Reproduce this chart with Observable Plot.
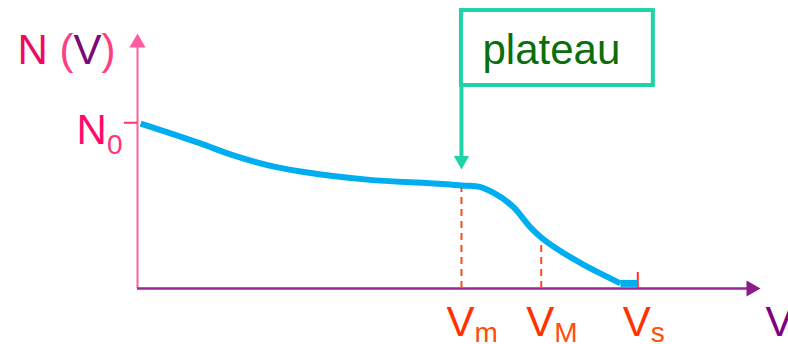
<!DOCTYPE html>
<html><head><meta charset="utf-8">
<script src="https://cdn.jsdelivr.net/npm/d3@7"></script>
<script src="https://cdn.jsdelivr.net/npm/@observablehq/plot@0.6"></script>
<style>body{margin:0;background:#fff;} svg{display:block;}</style>
</head><body><div id="chart"></div>
<script>
// ---- data (arbitrary units read from the schematic) ----
const voltage = [0.5, 10.1, 15.4, 22.5, 26.2, 36.9, 50.2, 52.0, 54.6, 57.1, 60.4, 63.1, 64.8, 68.0, 71.5, 74.3, 77.5];
const counts  = [64.7, 56.9, 52.2, 47.5, 45.9, 42.7, 40.8, 40.4, 40.0, 37.6, 31.8, 23.9, 20.0, 14.5, 9.5, 5.9, 2.0];
const tailV = [77.5, 80.3];
const tailN = [2.0, 2.0];
const N0 = 65;
const Vm = 52.0, VM = 64.8, Vs = 80.3;
const markerLabels = ["Vm", "VM", "Vs"];
const markerV = [Vm, VM, Vs];
const dashedV = [Vm, VM];
const dashedN = [40.4, 20.0];
const plateauText = "plateau";
const plateauBox = {x1: Vm, x2: 82.8, y1: 79.6, y2: 109};
const plateauTip = 46.7;
const axisMax = 100;
const yTitle = "N (V)";
const xTitle = "V";
const N0Label = "N0";

const curve = voltage.map((v, i) => ({v, n: counts[i]}));
const tail = tailV.map((v, i) => ({v, n: tailN[i]}));
const markers = markerLabels.map((label, i) => ({label, v: markerV[i]}));
const dashed = dashedV.map((v, i) => ({v, n: dashedN[i]}));

// rich text (colours + subscripts) applied after rendering
const rich = {
  "N (V)": [{t: "N", c: "#ee0a62"}, {t: " (", c: "#ff3d84"}, {t: "V", c: "#7a0a7a"}, {t: ")", c: "#ff3d84"}],
  "N0": [{t: "N", c: "#ff0a6a"}, {t: "0", c: "#ff3377", sub: 10}],
  "Vm": [{t: "V", c: "#ff3300"}, {t: "m", c: "#ff4d0d", sub: 6}],
  "VM": [{t: "V", c: "#ff3300"}, {t: "M", c: "#ff4d0d", sub: 6}],
  "Vs": [{t: "V", c: "#ff3300"}, {t: "s", c: "#ff4d0d", sub: 6}]
};

const triR = 6;
const tipOff = 2 * triR * Math.sqrt(Math.PI / (3 * Math.sqrt(3)));

const plot = Plot.plot({
  width: 788, height: 344,
  marginLeft: 137, marginRight: 28, marginTop: 33, marginBottom: 56,
  x: {domain: [0, axisMax], axis: null},
  y: {domain: [0, axisMax], axis: null},
  style: {fontFamily: "'Liberation Sans', Arial, sans-serif", background: "#fff", overflow: "visible"},
  marks: [
    // axes
    Plot.ruleX([0], {y1: 0, y2: axisMax - 5, stroke: "#ff5ca0", strokeWidth: 2}),
    Plot.dot([0], {x: 0, y: axisMax, dy: tipOff, r: triR, symbol: "triangle", fill: "#ff5ca0"}),
    Plot.ruleY([0], {x1: 0, x2: axisMax - 2, stroke: "#952a95", strokeWidth: 2.5}),
    Plot.dot([0], {x: axisMax, y: 0, dx: -tipOff, r: triR, symbol: "triangle", rotate: 90, fill: "#8b1a8b"}),
    Plot.ruleY([N0], {x1: -2.1, x2: 0, stroke: "#ff3377", strokeWidth: 2}),
    Plot.ruleX([Vs], {y1: 0, y2: 6.3, stroke: "#ff2a2a", strokeWidth: 2}),
    // dashed guides
    Plot.ruleX(dashed, {x: "v", y1: 0, y2: "n", stroke: "#ff4a1a", strokeWidth: 2, strokeDasharray: "7,5"}),
    // curve
    Plot.line(curve, {x: "v", y: "n", curve: "monotone-x", stroke: "#00aef0", strokeWidth: 6, strokeLinecap: "butt"}),
    Plot.line(tail, {x: "v", y: "n", stroke: "#00aef0", strokeWidth: 7, strokeLinecap: "butt"}),
    // plateau callout
    Plot.rect([plateauBox], {x1: "x1", x2: "x2", y1: "y1", y2: "y2", fill: "none", stroke: "#1fd3a6", strokeWidth: 4}),
    Plot.ruleX([Vm], {y1: plateauBox.y1, y2: plateauTip + 4, stroke: "#1fd3a6", strokeWidth: 4}),
    Plot.dot([Vm], {x: Vm, y: plateauTip, dy: -tipOff * 0.95, r: triR * 0.95, symbol: "triangle", rotate: 180, fill: "#1fd3a6"}),
    Plot.text([plateauText], {x: Vm, y: 88.2, dx: 21, text: d => d, textAnchor: "start", lineAnchor: "bottom", fontSize: 42, fill: "#0a6e0a"}),
    // labels
    Plot.text([yTitle], {x: 0, y: axisMax, dx: -120, dy: 30, text: d => d, textAnchor: "start", lineAnchor: "bottom", fontSize: 42}),
    Plot.text([N0Label], {x: 0, y: N0, dx: -15, dy: 21, text: d => d, textAnchor: "end", lineAnchor: "bottom", fontSize: 42}),
    Plot.text(markers, {x: "v", y: 0, dx: -15, dy: 47, text: "label", textAnchor: "start", lineAnchor: "bottom", fontSize: 42}),
    Plot.text([xTitle], {x: axisMax, y: 0, dx: 5, dy: 47, text: d => d, textAnchor: "start", lineAnchor: "bottom", fontSize: 42, fill: "#800080"})
  ]
});

d3.select(plot).selectAll("text").each(function () {
  const spec = rich[this.textContent];
  if (!spec) return;
  this.textContent = "";
  for (const part of spec) {
    const ts = d3.select(this).append("tspan").text(part.t).attr("fill", part.c);
    if (part.sub) ts.attr("font-size", 28).attr("dy", part.sub);
  }
});

document.getElementById("chart").appendChild(plot);
</script>
</body></html>
